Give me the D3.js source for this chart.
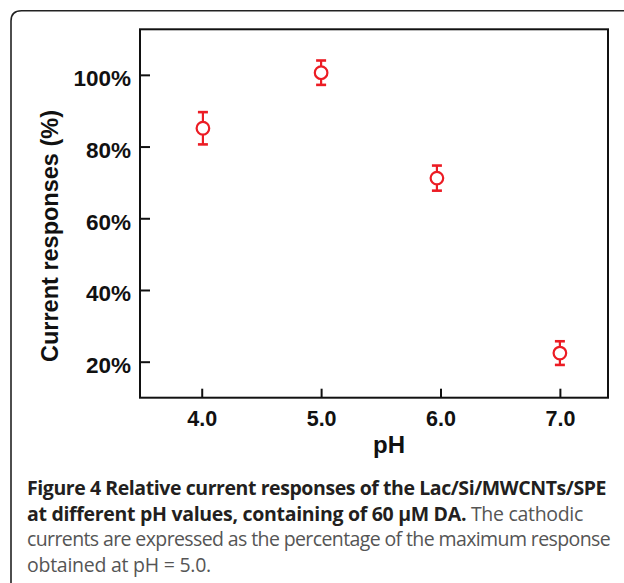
<!DOCTYPE html>
<html>
<head>
<meta charset="utf-8">
<script src="https://cdn.jsdelivr.net/npm/d3@7"></script>
<style>
  html, body { margin: 0; padding: 0; background: #fff; }
  svg { display: block; }
</style>
</head>
<body>
<svg id="chart" width="624" height="583"></svg>
<script>
// ---- data ----
const phValues = [4.01, 5.0, 5.97, 7.0];
const responses = [85.1, 100.6, 71.2, 22.4];
const errors = [4.5, 3.4, 3.5, 3.3];
const xTickValues = [4, 5, 6, 7];
const yTickValues = [20, 40, 60, 80, 100];
const xLabel = "pH";
const yLabel = "Current responses (%)";
const captionBold1 = "Figure 4 Relative current responses of the Lac/Si/MWCNTs/SPE";
const captionBold2 = "at different pH values, containing of 60 µM DA.";
const captionReg2 = " The cathodic";
const captionReg3 = "currents are expressed as the percentage of the maximum response";
const captionReg4 = "obtained at pH = 5.0.";

const svg = d3.select("#chart");

// outer frame (rounded top-left corner, runs off the right and bottom)
svg.append("path")
  .attr("d", "M11,600 L11,21 Q11,10.7 21.5,10.7 L640,10.7")
  .attr("fill", "none")
  .attr("stroke", "#222")
  .attr("stroke-width", 1.6);

const plot = { left: 140, top: 29.3, right: 608, bottom: 397.7 };

const x = d3.scaleLinear().domain([3.483, 7.403]).range([plot.left, plot.right]);
const y = d3.scaleLinear().domain([9.96, 112.7]).range([plot.bottom, plot.top]);

// plot box
svg.append("rect")
  .attr("x", plot.left).attr("y", plot.top)
  .attr("width", plot.right - plot.left).attr("height", plot.bottom - plot.top)
  .attr("fill", "none").attr("stroke", "#111").attr("stroke-width", 2);

const axisFont = "'Liberation Sans', Arial, sans-serif";

// y axis
const yAxis = d3.axisLeft(y).tickValues(yTickValues)
  .tickFormat(d => d + "%").tickSizeInner(-10).tickSizeOuter(0).tickPadding(9);
const gy = svg.append("g").attr("transform", `translate(${plot.left},0)`).call(yAxis);
gy.select(".domain").remove();
gy.selectAll(".tick line").attr("stroke", "#111").attr("stroke-width", 2);
gy.selectAll(".tick text")
  .attr("font-family", axisFont)
  .attr("font-weight", "bold").attr("font-size", 22.5).attr("fill", "#111")
  .attr("dy", "11").attr("dx", "0");

// x axis
const xAxis = d3.axisBottom(x).tickValues(xTickValues)
  .tickFormat(d3.format(".1f")).tickSizeInner(-9).tickSizeOuter(0).tickPadding(0);
const gx = svg.append("g").attr("transform", `translate(0,${plot.bottom})`).call(xAxis);
gx.select(".domain").remove();
gx.selectAll(".tick line").attr("stroke", "#111").attr("stroke-width", 2);
gx.selectAll(".tick text")
  .attr("font-family", axisFont)
  .attr("font-weight", "bold").attr("font-size", 21.5).attr("fill", "#111")
  .attr("y", 28).attr("dy", "0");

// axis labels
svg.append("text")
  .attr("x", 389).attr("y", 453)
  .attr("text-anchor", "middle")
  .attr("font-family", axisFont)
  .attr("font-weight", "bold").attr("font-size", 24).attr("fill", "#111")
  .text(xLabel);

svg.append("text")
  .attr("transform", "translate(57.5,236) rotate(-90)")
  .attr("text-anchor", "middle")
  .attr("font-family", axisFont)
  .attr("font-weight", "bold").attr("font-size", 23.5).attr("fill", "#111")
  .text(yLabel);

// data points
const red = "#ec1c24";
const pts = phValues.map((p, i) => ({ p, v: responses[i], e: errors[i] }));
const g = svg.append("g");
const cap = 5;
g.selectAll("line.err").data(pts).join("line").attr("class", "err")
  .attr("x1", d => x(d.p)).attr("x2", d => x(d.p))
  .attr("y1", d => y(d.v + d.e)).attr("y2", d => y(d.v - d.e))
  .attr("stroke", red).attr("stroke-width", 2.2);
g.selectAll("line.capt").data(pts).join("line").attr("class", "capt")
  .attr("x1", d => x(d.p) - cap).attr("x2", d => x(d.p) + cap)
  .attr("y1", d => y(d.v + d.e)).attr("y2", d => y(d.v + d.e))
  .attr("stroke", red).attr("stroke-width", 2.6);
g.selectAll("line.capb").data(pts).join("line").attr("class", "capb")
  .attr("x1", d => x(d.p) - cap).attr("x2", d => x(d.p) + cap)
  .attr("y1", d => y(d.v - d.e)).attr("y2", d => y(d.v - d.e))
  .attr("stroke", red).attr("stroke-width", 2.6);
g.selectAll("circle").data(pts).join("circle")
  .attr("cx", d => x(d.p)).attr("cy", d => y(d.v)).attr("r", 6.3)
  .attr("fill", "#fff").attr("stroke", red).attr("stroke-width", 2.2);

// caption: fit each line to its measured width using letter-spacing
const capFont = "'Open Sans', 'Noto Sans', sans-serif";
function capLine(yPos, parts, width) {
  const t = svg.append("text").attr("x", 27).attr("y", yPos)
    .attr("font-family", capFont).attr("font-size", 19.5);
  parts.forEach(([txt, bold]) => {
    t.append("tspan").text(txt)
      .attr("font-weight", bold ? 700 : 400)
      .attr("fill", bold ? "#231f20" : "#555");
  });
  const natural = t.node().getComputedTextLength();
  const n = parts.reduce((s, [txt]) => s + txt.length, 0);
  const ls = (width - natural) / n;
  t.attr("letter-spacing", ls.toFixed(3));
}
capLine(495, [[captionBold1, true]], 579);
capLine(520.5, [[captionBold2, true], [captionReg2, false]], 556);
capLine(546, [[captionReg3, false]], 583);
capLine(571.5, [[captionReg4, false]], 184);
</script>
</body>
</html>
